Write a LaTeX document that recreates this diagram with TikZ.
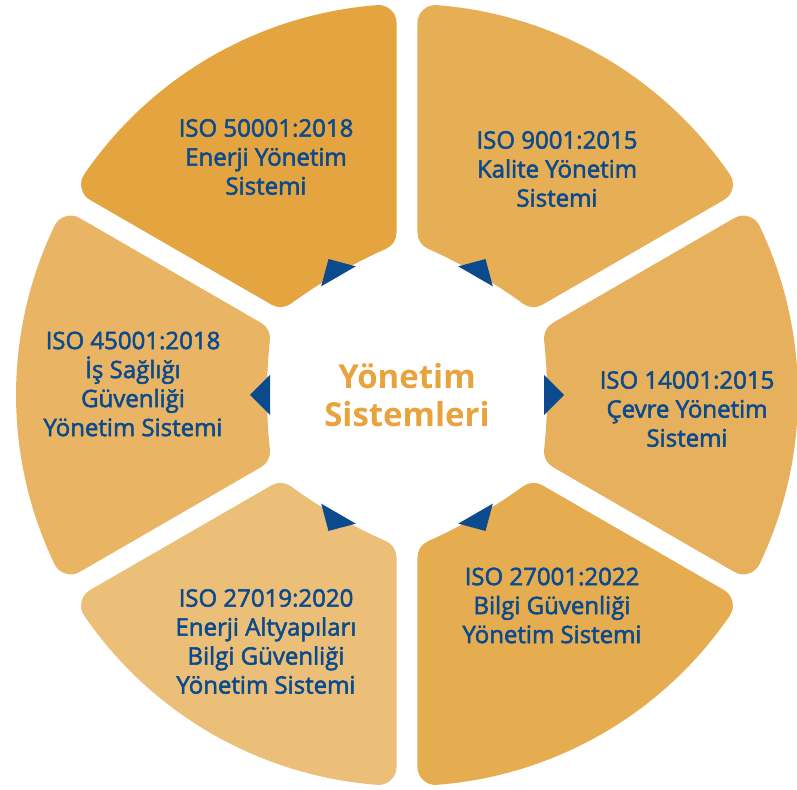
\documentclass[tikz,border=0pt]{standalone}
\usepackage{fontspec}
\setmainfont{Open Sans}
\newfontfamily\isofont{Open Sans}[FakeBold=2.2]
\usepackage{tikz}
\definecolor{isoblue}{HTML}{0B4A8C}
\definecolor{huborange}{HTML}{E8A33E}
\definecolor{segright}{HTML}{E7B05C}
\definecolor{segtopright}{HTML}{E6AE55}
\definecolor{segtopleft}{HTML}{E4A43F}
\definecolor{segleft}{HTML}{E9B565}
\definecolor{segbottomleft}{HTML}{EBBF78}
\definecolor{segbottomright}{HTML}{E6AC50}

\begin{document}
\begin{tikzpicture}[
  x=1pt,y=1pt,
  sector/.style={line width=36pt,line join=round},
  pointer/.style={fill=isoblue},
  isolabel/.style={align=center,text=isoblue,inner sep=0pt,
    font=\isofont\fontsize{24}{29}\selectfont},
  hubtitle/.style={align=center,text=huborange,inner sep=0pt,
    font=\bfseries\fontsize{33}{38}\selectfont}
]
\useasboundingbox (0,0) rectangle (797,789);
\coordinate (hub) at (407,394);

% Each sector is drawn inset; the wide round-joined stroke gives back its rounded rim.
\foreach \ang/\shade in {0/segright,60/segtopright,120/segtopleft,
    180/segleft,240/segbottomleft,300/segbottomright} {
  \begin{scope}[shift={(hub)},rotate=\ang]
    \filldraw[sector,fill=\shade,draw=\shade]
      (155,-56.6) .. controls (159,-20) and (159,20) .. (155,56.6)
      -- (25.63:373) arc[start angle=25.63,end angle=-25.63,radius=373]
      -- cycle;
    \fill[pointer] (137,-20) -- (157,0) -- (137,20) -- cycle;
  \end{scope}
}

% Standards, clockwise from the top.
\node[isolabel] (iso-9001) at (557,620)
  {ISO 9001:2015\\Kalite Yönetim\\Sistemi};
\node[isolabel] (iso-14001) at (687,380)
  {ISO 14001:2015\\Çevre Yönetim\\Sistemi};
\node[isolabel] (iso-27001) at (552,183.5)
  {ISO 27001:2022\\Bilgi Güvenliği\\Yönetim Sistemi};
\node[isolabel] (iso-27019) at (266,147.5)
  {ISO 27019:2020\\Enerji Altyapıları\\Bilgi Güvenliği\\Yönetim Sistemi};
\node[isolabel] (iso-45001) at (133,405)
  {ISO 45001:2018\\İş Sağlığı\\Güvenliği\\Yönetim Sistemi};
\node[isolabel] (iso-50001) at (266,632)
  {ISO 50001:2018\\Enerji Yönetim\\Sistemi};

\node[hubtitle] (hub-title) at (hub) {Yönetim\\Sistemleri};
\end{tikzpicture}
\end{document}
